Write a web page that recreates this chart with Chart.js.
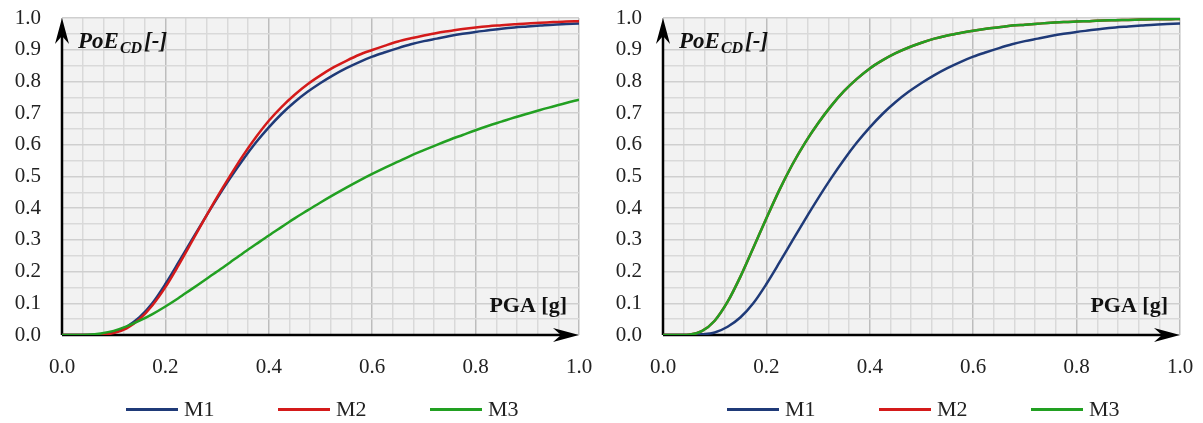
<!DOCTYPE html>
<html>
<head>
<meta charset="utf-8">
<script src="https://cdn.jsdelivr.net/npm/chart.js@4.4.0/dist/chart.umd.min.js"></script>
<style>
html,body{margin:0;padding:0;background:#fff;}
.wrap{position:absolute;top:0;width:601px;height:423px;}
.legend{position:absolute;top:397px;left:126px;display:flex;font-family:"Liberation Serif","Times New Roman",serif;font-size:22px;color:#222;}
.item{width:152px;display:flex;align-items:center;height:24px;}
.swatch{width:52px;height:3px;margin-right:6px;}
</style>
</head>
<body>
<div class="wrap" style="left:0"><canvas id="c1" width="601" height="423"></canvas><div class="legend" id="l1"></div></div>
<div class="wrap" style="left:601px"><canvas id="c2" width="601" height="423"></canvas><div class="legend" id="l2"></div></div>
<script>
// PGA [g] sample points
const pga = [0,0.025,0.05,0.075,0.1,0.125,0.15,0.175,0.2,0.225,0.25,0.275,0.3,0.325,0.35,0.375,0.4,0.425,0.45,0.475,0.5,0.525,0.55,0.575,0.6,0.625,0.65,0.675,0.7,0.725,0.75,0.775,0.8,0.825,0.85,0.875,0.9,0.925,0.95,0.975,1.0];

// Left panel
const leftM1 = [0,0,0.0001,0.002,0.008,0.026,0.056,0.101,0.161,0.228,0.297,0.365,0.431,0.494,0.553,0.607,0.655,0.698,0.735,0.767,0.795,0.820,0.842,0.861,0.878,0.892,0.905,0.917,0.927,0.935,0.943,0.950,0.956,0.961,0.966,0.970,0.973,0.976,0.979,0.981,0.983];
const leftM2 = [0,0,0,0.001,0.006,0.021,0.050,0.094,0.151,0.219,0.291,0.364,0.435,0.502,0.566,0.624,0.676,0.720,0.758,0.791,0.819,0.844,0.865,0.884,0.899,0.913,0.926,0.936,0.945,0.953,0.959,0.965,0.970,0.974,0.977,0.980,0.983,0.985,0.987,0.989,0.990];
const leftM3 = [0,0,0.001,0.005,0.013,0.027,0.045,0.066,0.090,0.116,0.144,0.172,0.200,0.229,0.258,0.286,0.314,0.341,0.368,0.393,0.418,0.442,0.465,0.487,0.508,0.528,0.547,0.566,0.583,0.600,0.616,0.631,0.646,0.660,0.673,0.686,0.698,0.710,0.721,0.732,0.742];

// Right panel
const rightM1 = [0,0,0.0001,0.002,0.008,0.026,0.056,0.101,0.161,0.228,0.297,0.365,0.431,0.494,0.553,0.607,0.655,0.698,0.735,0.767,0.795,0.820,0.842,0.861,0.878,0.892,0.905,0.917,0.927,0.935,0.943,0.950,0.956,0.961,0.966,0.970,0.973,0.976,0.979,0.981,0.983];
const rightM2 = [0,0,0.001,0.012,0.045,0.105,0.185,0.276,0.368,0.457,0.537,0.607,0.668,0.722,0.769,0.808,0.841,0.867,0.889,0.907,0.922,0.935,0.945,0.953,0.960,0.966,0.971,0.976,0.979,0.982,0.985,0.987,0.989,0.990,0.992,0.993,0.994,0.995,0.996,0.996,0.997];
const rightM3 = [0,0,0.001,0.012,0.045,0.105,0.185,0.276,0.368,0.457,0.537,0.607,0.668,0.722,0.769,0.808,0.841,0.867,0.889,0.907,0.922,0.935,0.945,0.953,0.960,0.966,0.971,0.976,0.979,0.982,0.985,0.987,0.989,0.990,0.992,0.993,0.994,0.995,0.996,0.996,0.997];

const seriesNames = ['M1','M2','M3'];
const seriesColors = ['#1f3a78','#d41a1a','#22a022'];
const yTitle = {main:'PoE', sub:'CD', tail:'[-]'};
const xTitle = 'PGA [g]';

const FONT = '"Liberation Serif","Times New Roman",serif';
const MINOR = '#d9d9d9';
const MAJOR_X = '#bdbdbd';
const MAJOR_Y = '#cfcfcf';

function isMult(v, s){ return Math.abs(v/s - Math.round(v/s)) < 1e-6; }

function arrow(ctx, tipX, tipY, dx, dy){
  const len = 26, half = 7, notch = 18;
  const px = -dy, py = dx;
  ctx.beginPath();
  ctx.moveTo(tipX, tipY);
  ctx.lineTo(tipX - dx*len + px*half, tipY - dy*len + py*half);
  ctx.lineTo(tipX - dx*notch, tipY - dy*notch);
  ctx.lineTo(tipX - dx*len - px*half, tipY - dy*len - py*half);
  ctx.closePath();
  ctx.fill();
}

const plotPlugin = {
  id:'plotDeco',
  beforeDraw(chart){
    const {ctx, chartArea:a} = chart;
    ctx.save();
    ctx.fillStyle = '#f2f2f2';
    ctx.fillRect(a.left, a.top, a.right - a.left, a.bottom - a.top);
    ctx.restore();
  },
  beforeDatasetsDraw(chart){
    const {ctx, chartArea:a} = chart;
    ctx.save();
    ctx.strokeStyle = '#000';
    ctx.fillStyle = '#000';
    ctx.lineWidth = 2.5;
    ctx.beginPath();
    ctx.moveTo(a.left, a.bottom);
    ctx.lineTo(a.left, a.top + 18);
    ctx.moveTo(a.left, a.bottom);
    ctx.lineTo(a.right - 18, a.bottom);
    ctx.stroke();
    arrow(ctx, a.left, a.top, 0, -1);
    arrow(ctx, a.right, a.bottom, 1, 0);
    ctx.restore();
  },
  afterDatasetsDraw(chart){
    const {ctx, chartArea:a} = chart;
    ctx.save();
    ctx.fillStyle = '#111';
    ctx.textBaseline = 'alphabetic';
    ctx.textAlign = 'left';
    let x = a.left + 16, y = a.top + 30;
    ctx.font = 'italic bold 23px ' + FONT;
    ctx.fillText(yTitle.main, x, y);
    x += ctx.measureText(yTitle.main).width + 1;
    ctx.font = 'italic bold 16px ' + FONT;
    ctx.fillText(yTitle.sub, x, y + 5);
    x += ctx.measureText(yTitle.sub).width + 2;
    ctx.font = 'italic bold 23px ' + FONT;
    ctx.fillText(yTitle.tail, x, y);
    ctx.textAlign = 'right';
    ctx.font = 'bold 22px ' + FONT;
    ctx.fillText(xTitle, a.right - 12, a.bottom - 23);
    ctx.restore();
  }
};

function makeChart(canvasId, legendId, values){
  const orders = [3,2,1];
  const datasets = values.map((vals, k) => ({
    label: seriesNames[k],
    data: pga.map((x, i) => ({x: x, y: vals[i]})),
    borderColor: seriesColors[k],
    backgroundColor: seriesColors[k],
    borderWidth: 2.5,
    pointRadius: 0,
    cubicInterpolationMode: 'monotone',
    fill: false,
    order: orders[k]
  }));
  new Chart(document.getElementById(canvasId), {
    type: 'line',
    data: {datasets},
    options: {
      responsive: false,
      animation: false,
      devicePixelRatio: 1,
      layout: {padding: {top: 18, right: 22, bottom: 0, left: 0}},
      plugins: {legend: {display: false}, tooltip: {enabled: false}},
      scales: {
        x: {
          type: 'linear', min: 0, max: 1,
          afterFit(s){ s.height = 88; s.paddingLeft = 0; s.paddingRight = 0; },
          border: {display: false},
          grid: {drawTicks: false, lineWidth: 1.5, color: c => (c.tick && isMult(c.tick.value, 0.2)) ? MAJOR_X : MINOR},
          ticks: {stepSize: 0.04, maxTicksLimit: 100, autoSkip: false, maxRotation: 0, padding: 20,
                  color: '#222', font: {family: FONT, size: 21},
                  callback: v => isMult(v, 0.2) ? v.toFixed(1) : ''}
        },
        y: {
          type: 'linear', min: 0, max: 1,
          afterFit(s){ s.width = 62; s.paddingTop = 0; s.paddingBottom = 0; },
          border: {display: false},
          grid: {drawTicks: false, lineWidth: 1.5, color: c => (c.tick && isMult(c.tick.value, 0.1)) ? MAJOR_Y : MINOR},
          ticks: {stepSize: 0.05, maxTicksLimit: 100, autoSkip: false, padding: 21,
                  color: '#222', font: {family: FONT, size: 21},
                  callback: v => isMult(v, 0.1) ? v.toFixed(1) : ''}
        }
      }
    },
    plugins: [plotPlugin]
  });
  const leg = document.getElementById(legendId);
  seriesNames.forEach((n, k) => {
    const it = document.createElement('div');
    it.className = 'item';
    const sw = document.createElement('span');
    sw.className = 'swatch';
    sw.style.background = seriesColors[k];
    const tx = document.createElement('span');
    tx.textContent = n;
    it.appendChild(sw); it.appendChild(tx);
    leg.appendChild(it);
  });
}

makeChart('c1', 'l1', [leftM1, leftM2, leftM3]);
makeChart('c2', 'l2', [rightM1, rightM2, rightM3]);
</script>
</body>
</html>
